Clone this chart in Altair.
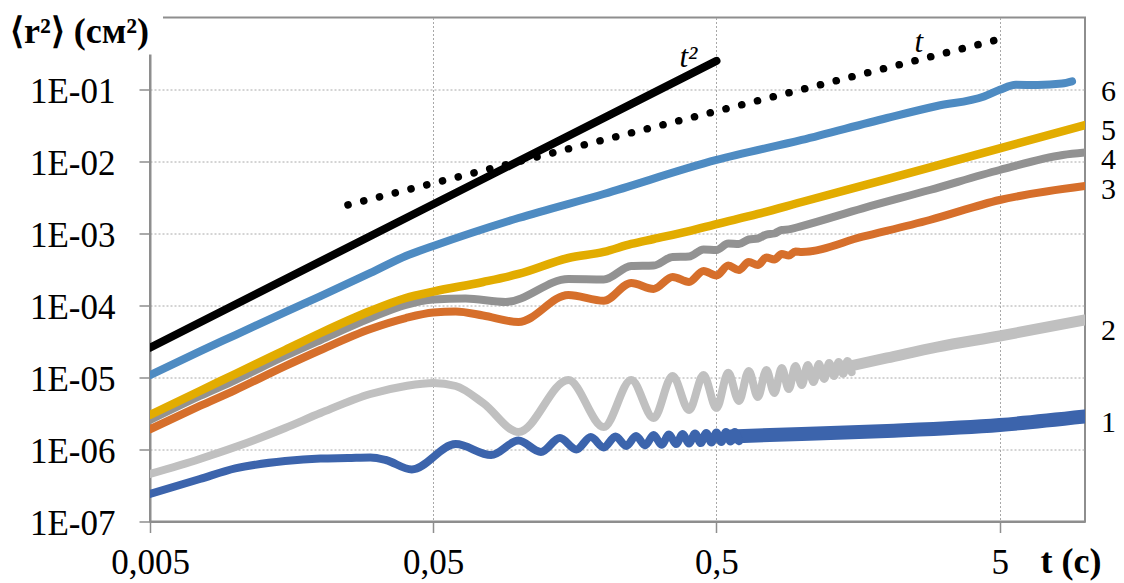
import altair as alt
import pandas as pd

# ---------------- data ----------------
# curve 1 (dark blue) - oscillating part
t1 = [0.005, 0.0075, 0.01, 0.015, 0.02, 0.025, 0.03, 0.034, 0.042, 0.06, 0.08, 0.1, 0.12, 0.14,
      0.16, 0.18, 0.2, 0.22, 0.24, 0.26, 0.28, 0.3, 0.32, 0.34, 0.36, 0.38, 0.4, 0.42, 0.44,
      0.46, 0.48, 0.5, 0.52, 0.54, 0.56, 0.58, 0.6]
r1 = [2.41e-7, 3.89e-7, 5.45e-7, 6.92e-7, 7.50e-7, 7.62e-7, 7.74e-7, 7.15e-7, 5.28e-7, 1.19e-6,
      8.39e-7, 1.33e-6, 9.23e-7, 1.44e-6, 1.00e-6, 1.49e-6, 1.07e-6, 1.52e-6, 1.12e-6, 1.54e-6,
      1.14e-6, 1.59e-6, 1.16e-6, 1.62e-6, 1.19e-6, 1.64e-6, 1.21e-6, 1.67e-6, 1.23e-6, 1.70e-6,
      1.25e-6, 1.72e-6, 1.27e-6, 1.75e-6, 1.29e-6, 1.75e-6, 1.31e-6]
# curve 1 - dense oscillation band
t1_band = [0.56, 1, 2, 5, 10]
r1_band = [1.52e-6, 1.64e-6, 1.81e-6, 2.19e-6, 2.87e-6]

# curve 2 (light gray)
t2 = [0.005, 0.0075, 0.01, 0.015, 0.02, 0.03, 0.04, 0.05, 0.06, 0.075, 0.1, 0.15, 0.2, 0.25,
      0.3, 0.35, 0.4, 0.45, 0.5, 0.55, 0.6, 0.65, 0.7, 0.75, 0.8, 0.85, 0.9, 0.95, 1.0, 1.05,
      1.1, 1.15, 1.2, 1.25, 1.3, 1.35, 1.4, 1.45, 1.5]
r2 = [4.57e-7, 7.38e-7, 1.08e-6, 1.99e-6, 3.21e-6, 5.90e-6, 7.62e-6, 8.39e-6, 7.62e-6, 4.42e-6,
      1.75e-6, 9.23e-6, 2.05e-6, 9.23e-6, 2.74e-6, 1.05e-5, 3.54e-6, 1.08e-5, 3.77e-6, 1.16e-5,
      4.72e-6, 1.23e-5, 5.36e-6, 1.27e-5, 6.09e-6, 1.35e-5, 6.92e-6, 1.44e-5, 7.87e-6, 1.49e-5,
      8.66e-6, 1.54e-5, 9.53e-6, 1.59e-5, 1.05e-5, 1.64e-5, 1.12e-5, 1.70e-5, 1.19e-5]
t2_band = [1.4, 2, 3, 5, 10]
r2_band = [1.38e-5, 1.87e-5, 2.65e-5, 3.77e-5, 6.29e-5]

# curve 3 (orange)
t3 = [0.005, 0.0075, 0.01, 0.015, 0.02, 0.03, 0.04, 0.05, 0.06, 0.075, 0.1, 0.15, 0.2, 0.25,
      0.3, 0.35, 0.4, 0.45, 0.5, 0.55, 0.6, 0.65, 0.7, 0.75, 0.8, 0.85, 0.9, 0.95, 1.0, 1.64,
      2.83, 5, 10]
r3 = [1.91e-6, 4.02e-6, 6.70e-6, 1.44e-5, 2.41e-5, 4.72e-5, 6.70e-5, 7.99e-5, 8.25e-5, 7.26e-5,
      5.90e-5, 1.40e-4, 1.16e-4, 2.05e-4, 1.70e-4, 2.49e-4, 2.12e-4, 3.02e-4, 2.61e-4, 3.59e-4,
      3.11e-4, 4.02e-4, 3.65e-4, 4.64e-4, 4.36e-4, 5.19e-4, 4.95e-4, 5.62e-4, 5.54e-4, 9.03e-4,
      1.54e-3, 2.92e-3, 4.57e-3]

# curve 4 (gray)
t4 = [0.005, 0.0075, 0.01, 0.015, 0.02, 0.03, 0.04, 0.05, 0.065, 0.09, 0.15, 0.2, 0.25, 0.3,
      0.35, 0.4, 0.45, 0.5, 0.55, 0.6, 0.65, 0.7, 0.75, 0.8, 0.85, 0.9, 1.0, 1.64, 2.83, 5,
      8.35, 10]
r4 = [2.57e-6, 5.54e-6, 9.23e-6, 1.99e-5, 3.32e-5, 6.70e-5, 1.02e-4, 1.21e-4, 1.25e-4, 1.12e-4,
      2.33e-4, 2.30e-4, 3.54e-4, 3.59e-4, 4.72e-4, 4.79e-4, 6.00e-4, 5.90e-4, 7.26e-4, 7.15e-4,
      8.25e-4, 8.52e-4, 9.68e-4, 1.00e-3, 1.12e-3, 1.14e-3, 1.27e-3, 2.24e-3, 4.02e-3, 7.62e-3,
      1.23e-2, 1.33e-2]

# curve 5 (gold)
t5 = [0.005, 0.0075, 0.01, 0.015, 0.02, 0.03, 0.04, 0.05, 0.075, 0.1, 0.15, 0.2, 0.25, 0.3,
      0.4, 0.5, 0.7, 1, 2, 5, 10]
r5 = [3.02e-6, 6.49e-6, 1.12e-5, 2.41e-5, 4.15e-5, 8.39e-5, 1.27e-4, 1.56e-4, 2.12e-4, 2.74e-4,
      4.57e-4, 5.54e-4, 7.15e-4, 8.39e-4, 1.08e-3, 1.35e-3, 1.87e-3, 2.74e-3, 5.71e-3, 1.52e-2,
      3.21e-2]

# curve 6 (steel blue)
t6 = [0.005, 0.0075, 0.01, 0.015, 0.02, 0.03, 0.04, 0.05, 0.1, 0.2, 0.5, 1, 2, 3, 4.4, 5, 5.7,
      6.8, 8.3, 9.0]
r6 = [1.08e-5, 2.31e-5, 3.89e-5, 8.12e-5, 1.35e-4, 2.83e-4, 4.87e-4, 6.70e-4, 1.64e-3, 3.54e-3,
      1.05e-2, 1.99e-2, 4.02e-2, 5.90e-2, 8.0e-2, 0.099, 0.116, 0.1155, 0.121, 0.13]

# reference slopes
ref_sq_t = [0.005, 0.5]
ref_sq_r = [2.6e-5, 0.25]
ref_lin_t = [0.025, 4.8]
ref_lin_r = [0.0025, 0.48]

# curve numbers at right side
curve_labels = ["1", "2", "3", "4", "5", "6"]
curve_label_r = [2.33e-6, 4.36e-5, 4.02e-3, 1.05e-2, 2.66e-2, 9.3e-2]

# slope annotations
ann_text = ["t²", "t"]
ann_t = [0.37, 2.5]
ann_r = [0.205, 0.332]

x_ticks = [0.005, 0.05, 0.5, 5]
y_ticks = [1e-7, 1e-6, 1e-5, 1e-4, 1e-3, 1e-2, 1e-1]

y_title = "⟨r²⟩ (см²)"
x_title = "t (c)"

# ---------------- chart ----------------
W, H = 935, 504
SERIF = "Liberation Serif"
AXC = "#8E8E8E"

xscale = alt.Scale(type="log", domain=[0.005, 10], nice=False)
yscale = alt.Scale(type="log", domain=[1e-7, 1], nice=False)

xaxis = alt.Axis(
    values=x_ticks,
    labelExpr="replace(format(datum.value, '~g'), '.', ',')",
    grid=True, gridColor="#A8A8A8", gridDash=[2, 2], gridWidth=1,
    tickSize=11, tickColor=AXC, tickWidth=1.5,
    domainColor=AXC, domainWidth=2,
    labelFont=SERIF, labelFontSize=35, labelColor="black",
    labelBaseline="alphabetic", labelPadding=41, labelFlush=False,
    title=x_title, titleFont=SERIF, titleFontSize=36, titleFontWeight="bold",
    titleColor="black", titleAlign="left", titleBaseline="alphabetic",
    titleX=890, titleY=51, titleAngle=0,
)
yaxis = alt.Axis(
    values=y_ticks,
    labelExpr="'1E-0' + round(-log(datum.value) / LN10)",
    grid=True, gridColor="#A8A8A8", gridDash=[2, 2], gridWidth=1,
    tickSize=11, tickColor=AXC, tickWidth=1.5,
    domainColor=AXC, domainWidth=2,
    labelFont=SERIF, labelFontSize=35, labelColor="black",
    labelBaseline="middle", labelPadding=24, labelOffset=1.5, labelFlush=False,
    title=None,
)

X = alt.X("t:Q", scale=xscale, axis=xaxis)
Y = alt.Y("r:Q", scale=yscale, axis=yaxis)


def curve(t, r, color, width, interp="monotone", dash=None):
    df = pd.DataFrame({"t": t, "r": r})
    kw = dict(color=color, strokeWidth=width, interpolate=interp,
              strokeCap="round", strokeJoin="round", clip=True)
    if dash is not None:
        kw["strokeDash"] = dash
    return alt.Chart(df).mark_line(**kw).encode(x=X, y=Y)


layers = [
    curve(t1_band, r1_band, "#3C64AC", 14),
    curve(t1, r1, "#3C64AC", 8),
    curve(t2, r2, "#C0C0C0", 8),
    curve(t2_band, r2_band, "#C0C0C0", 11),
    curve(t3, r3, "#D66F2B", 8),
    curve(t4, r4, "#929292", 8),
    curve(t5, r5, "#E2AC00", 8.5),
    curve(t6, r6, "#4E8BC2", 8),
    curve(ref_lin_t, ref_lin_r, "black", 7.5, interp="linear", dash=[0.1, 16.15]),
    curve(ref_sq_t, ref_sq_r, "black", 8, interp="linear"),
]

labels_df = pd.DataFrame({"lab": curve_labels, "r": curve_label_r})
layers.append(
    alt.Chart(labels_df).mark_text(font=SERIF, fontSize=30, align="left",
                                   baseline="middle", color="black").encode(
        x=alt.value(W + 16), y=Y, text="lab:N",
    )
)

ann_df = pd.DataFrame({"txt": ann_text, "t": ann_t, "r": ann_r})
layers.append(
    alt.Chart(ann_df).mark_text(font=SERIF, fontSize=31, fontStyle="italic",
                                align="left", baseline="alphabetic", color="black").encode(
        x=X, y=Y, text="txt:N",
    )
)

# white box behind the y-axis title (breaks the frame as in the original)
layers.append(
    alt.Chart(pd.DataFrame({"a": [0]})).mark_rect(color="white").encode(
        x=alt.value(-8), x2=alt.value(13), y=alt.value(-6), y2=alt.value(37)
    )
)
layers.append(
    alt.Chart(pd.DataFrame({"lab": [y_title]})).mark_text(
        font=SERIF, fontSize=36, fontWeight="bold", align="left",
        baseline="alphabetic", color="black").encode(
        x=alt.value(-140), y=alt.value(25.5), text="lab:N"
    )
)

chart = alt.layer(*layers).properties(
    width=W, height=H,
    autosize=alt.AutoSizeParams(type="none"),
    padding={"left": 142, "top": 9.5, "right": 31, "bottom": 61},
    background="white",
).configure_view(stroke=AXC, strokeWidth=2)

chart.save("out.html", embed_options={"renderer": "svg", "actions": False})
